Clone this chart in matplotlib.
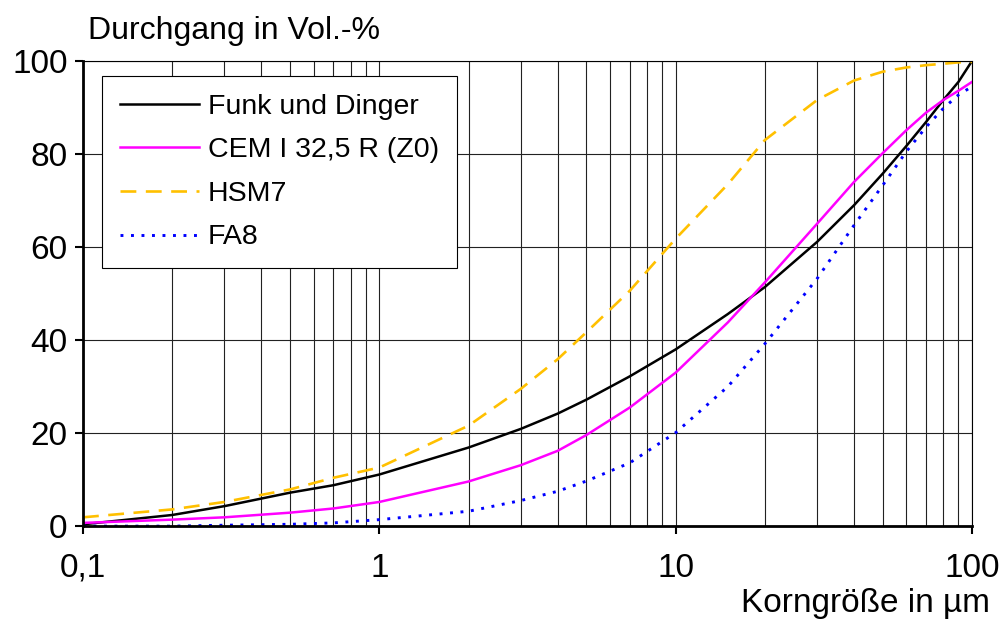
import matplotlib.pyplot as plt
from matplotlib.ticker import FixedLocator, NullFormatter

plt.rcParams['font.family'] = ['Liberation Sans', 'DejaVu Sans']

# Korngröße in µm
d = [0.1, 0.2, 0.3, 0.5, 0.7, 1, 2, 3, 4, 5, 7, 10, 15, 20, 30, 40, 50, 60, 70, 80, 90, 100]

# Durchgang in Vol.-%
funk = [0.4, 2.4, 4.3, 7.2, 8.8, 11.1, 16.9, 20.9, 24.2, 27.2, 32.2, 38.0, 45.6, 51.4,
        61.1, 69.0, 75.8, 81.7, 86.9, 91.6, 95.5, 100.0]
cem = [0.7, 1.4, 1.9, 2.9, 3.8, 5.2, 9.6, 13.1, 16.2, 19.6, 25.5, 33.0, 43.8, 52.4,
       65.0, 74.0, 80.2, 85.1, 88.9, 91.6, 93.6, 95.5]
hsm = [1.9, 3.6, 5.2, 7.9, 10.4, 12.6, 21.6, 29.5, 35.9, 41.7, 50.6, 61.8, 73.5, 83.0,
       91.6, 95.8, 97.7, 98.6, 99.1, 99.4, 99.7, 99.8]
fa8 = [0.0, 0.0, 0.2, 0.4, 0.7, 1.4, 3.2, 5.5, 7.5, 9.7, 13.6, 20.1, 30.0, 39.2,
       53.2, 64.7, 73.3, 80.5, 85.8, 89.8, 92.7, 94.5]

labels = ['Funk und Dinger', 'CEM I 32,5 R (Z0)', 'HSM7', 'FA8']
x_ticks = [0.1, 1, 10, 100]
x_ticklabels = ['0,1', '1', '10', '100']

fig = plt.figure(figsize=(10, 6.19), dpi=100)
ax = fig.add_axes([0.083, 0.150, 0.889, 0.7515])

ax.plot(d, funk, color='black', lw=1.8, label=labels[0])
ax.plot(d, cem, color='#FF00FF', lw=1.8, label=labels[1])
ax.plot(d, hsm, color='#FFC000', lw=1.9, dashes=(6, 3.6), label=labels[2])
ax.plot(d, fa8, color='#0000FF', lw=2.1, dashes=(1, 2.6), label=labels[3])

ax.set_xscale('log')
ax.set_xlim(0.1, 100)
ax.set_ylim(0, 100)
ax.set_xticks(x_ticks)
ax.set_xticklabels(x_ticklabels)
minor = [m * 10.0 ** e for e in (-1, 0, 1) for m in range(2, 10)]
ax.xaxis.set_minor_locator(FixedLocator(minor))
ax.xaxis.set_minor_formatter(NullFormatter())
ax.set_yticks(range(0, 101, 20))

ax.grid(True, which='both', axis='x', color='#222222', lw=0.8)
ax.grid(True, which='major', axis='y', color='#222222', lw=0.8)
ax.tick_params(which='major', direction='out', length=6, width=1.5, labelsize=24)
ax.tick_params(axis='x', pad=13)
ax.tick_params(axis='y', pad=5)
ax.tick_params(which='minor', length=0)

for s in ('left', 'bottom'):
    ax.spines[s].set_linewidth(2)
for s in ('top', 'right'):
    ax.spines[s].set_linewidth(0.8)

fig.text(0.088, 0.950, 'Durchgang in Vol.-%', fontsize=23, ha='left', va='center')
fig.text(0.99, 0.025, 'Korngröße in µm', fontsize=24, ha='right', va='center')

leg = ax.legend(loc='upper left', bbox_to_anchor=(0.0214, 0.968), fontsize=20.5,
                frameon=True, fancybox=False, edgecolor='black', framealpha=1,
                handlelength=2.8, labelspacing=0.62, borderpad=0.62, borderaxespad=0,
                handletextpad=0.3)
leg.get_frame().set_linewidth(0.8)
leg.set_zorder(5)

fig.savefig('out.png', dpi=100)
